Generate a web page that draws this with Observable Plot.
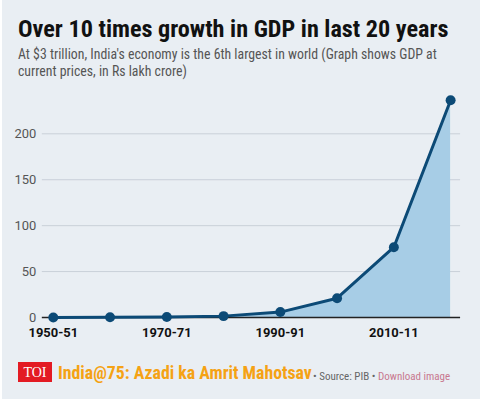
<!DOCTYPE html>
<html><head><meta charset="utf-8">
<script src="https://cdn.jsdelivr.net/npm/d3@7"></script>
<script src="https://cdn.jsdelivr.net/npm/@observablehq/plot@0.6"></script>
<style>
html,body{margin:0;padding:0;}
body{width:482px;height:399px;background:#fff;overflow:hidden;}
#wrap{position:relative;width:478px;height:399px;background:#e9eef3;margin-left:2px;}
.cond{font-family:"Liberation Sans Narrow","Roboto Condensed","Roboto",sans-serif;}
#title{position:absolute;left:16px;top:15px;font-size:24.2px;font-weight:bold;color:#111;white-space:nowrap;}
#sub{position:absolute;left:16px;top:46px;font-size:13.8px;line-height:17px;color:#555;width:440px;}
#chart{position:absolute;left:-2px;top:80px;}
#foot{position:absolute;left:16px;top:362px;height:21px;white-space:nowrap;}
#toi{position:absolute;left:0;top:0;width:34px;height:20px;background:#e31b23;color:#fff;font-family:"Liberation Serif",serif;font-size:14px;line-height:21px;text-align:center;}
#brand{position:absolute;left:40px;top:0px;font-size:17.8px;font-weight:bold;color:#f5a214;}
#src{position:absolute;left:295px;top:7.5px;font-size:11px;color:#666;}
#src span{color:#c8788f;}
</style></head>
<body><div id="wrap">
<div id="title" class="cond">Over 10 times growth in GDP in last 20 years</div>
<div id="sub" class="cond">At $3 trillion, India's economy is the 6th largest in world (Graph shows GDP at current prices, in Rs lakh crore)</div>
<div id="chart"></div>
<div id="foot"><div id="toi">TOI</div><div id="brand" class="cond">India@75: Azadi ka Amrit Mahotsav</div><div id="src" class="cond">• Source: PIB • <span>Download image</span></div></div>
</div>
<script>
const years = ["1950-51","1960-61","1970-71","1980-81","1990-91","2000-01","2010-11","2021-22"];
const gdp = [0.10, 0.17, 0.45, 1.5, 5.9, 21.0, 76.5, 236.6];
const xTicks = ["1950-51","1970-71","1990-91","2010-11"];
const yTicks = [0, 50, 100, 150, 200];
const data = years.map((y, i) => ({year: y, gdp: gdp[i]}));

const plot = Plot.plot({
  width: 482,
  height: 268,
  marginLeft: 42,
  marginRight: 20,
  marginTop: 7.4,
  marginBottom: 30,
  style: {background: "transparent", fontFamily: "'Liberation Sans Narrow', Roboto, sans-serif"},
  x: {type: "point", domain: years, range: [53, 452], padding: 0, label: null},
  y: {domain: [0, 250], label: null},
  marks: [
    Plot.gridY(yTicks, {stroke: "#c9d0d8", strokeOpacity: 1, strokeWidth: 1}),
    Plot.axisY(yTicks, {tickSize: 0, tickPadding: 6, fontSize: 13, fill: "#555", label: null}),
    Plot.areaY(data, {x: "year", y: "gdp", fill: "#a7cde6"}),
    Plot.ruleY([0], {stroke: "#222", strokeWidth: 1.3}),
    Plot.lineY(data, {x: "year", y: "gdp", stroke: "#0c4a76", strokeWidth: 3}),
    Plot.dot(data, {x: "year", y: "gdp", r: 5, fill: "#0c4a76"}),
    Plot.axisX(xTicks, {tickSize: 0, tickPadding: 10, fontSize: 13, fontWeight: "bold", fill: "#111", label: null})
  ]
});
document.getElementById("chart").appendChild(plot);
</script>
</body></html>
